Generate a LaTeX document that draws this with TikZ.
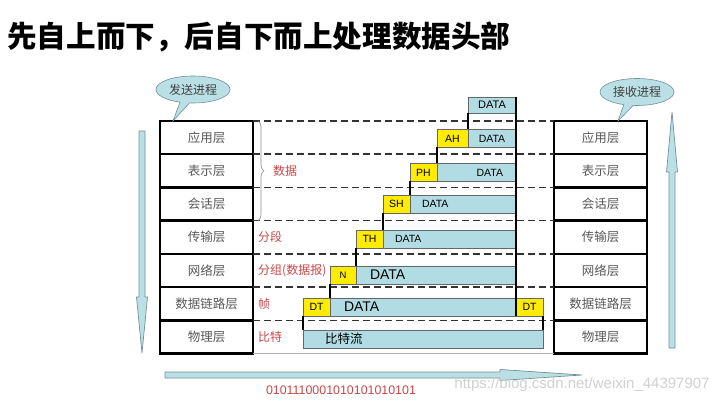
\documentclass[tikz,border=0pt]{standalone}
\usepackage{fontspec}
\setsansfont{Liberation Sans}
\newfontfamily\cjk{Noto Sans CJK SC}
\usetikzlibrary{shapes, positioning, decorations.pathreplacing}
\definecolor{cData}{RGB}{178,220,228}
\definecolor{cHdr}{RGB}{255,236,0}
\definecolor{cRed}{RGB}{200,72,72}
\definecolor{cBub}{RGB}{186,224,230}
\definecolor{cEdge}{RGB}{112,146,152}

\begin{document}
\begin{tikzpicture}[x=1pt, y=-1pt,
    lay/.style={draw=black, line width=2.6pt, fill=white, minimum width=93pt, minimum height=33.2pt,
        inner sep=0pt, outer sep=0pt, text=black!65, font=\cjk\fontsize{12.5}{13}\selectfont},
    pkt/.style={draw=black!60, line width=0.6pt, fill=cData, minimum height=18pt, inner sep=0pt,
        outer sep=0pt, font=\sffamily\fontsize{10.5}{11}\selectfont},
    hdr/.style={pkt, fill=cHdr},
    big/.style={font=\sffamily\fontsize{14}{15}\selectfont},
    stub/.style={draw=black, line width=2.5pt},
    dsh/.style={draw=black!80, line width=1.4pt, dash pattern=on 7pt off 4pt},
    tag/.style={text=cRed, font=\cjk\fontsize{12}{13}\selectfont, inner sep=0pt},
    bub/.style={ellipse callout, draw=cEdge, fill=cBub, line width=0.6pt, minimum width=74pt,
        minimum height=27pt, inner sep=0pt, font=\cjk\fontsize{12}{13}\selectfont, text=black!75},
    arr/.style={draw=cEdge, fill=cBub, line width=0.7pt, line join=round}]
\fill[white] (0,0) rectangle (727,403);
\useasboundingbox (0,0) rectangle (727,403);

\node[anchor=west, inner sep=0pt, font=\cjk\bfseries\fontsize{29.6}{30}\selectfont] (title) at (7,37) {先自上而下，后自下而上处理数据头部};

% sending stack
\node[lay] (L1) at (206.5,137.6) {应用层};
\node[lay, below=0pt of L1] (L2) {表示层};
\node[lay, below=0pt of L2] (L3) {会话层};
\node[lay, below=0pt of L3] (L4) {传输层};
\node[lay, below=0pt of L4] (L5) {网络层};
\node[lay, below=0pt of L5] (L6) {数据链路层};
\node[lay, below=0pt of L6] (L7) {物理层};

% receiving stack
\node[lay] (R1) at (600.5,137.6) {应用层};
\node[lay, below=0pt of R1] (R2) {表示层};
\node[lay, below=0pt of R2] (R3) {会话层};
\node[lay, below=0pt of R3] (R4) {传输层};
\node[lay, below=0pt of R4] (R5) {网络层};
\node[lay, below=0pt of R5] (R6) {数据链路层};
\node[lay, below=0pt of R6] (R7) {物理层};

\draw[dsh] (L1.north east) -- (R1.north west);
\draw[dsh] (L2.north east) -- (R2.north west);
\draw[dsh] (L3.north east) -- (R3.north west);
\draw[dsh] (L4.north east) -- (R4.north west);
\draw[dsh] (L5.north east) -- (R5.north west);
\draw[dsh] (L6.north east) -- (R6.north west);
\draw[dsh] (L7.north east) -- (R7.north west);
\draw[black!30, line width=0.8pt] (L7.south east) -- (R7.south west);

\node[bub, callout absolute pointer={([xshift=13pt]L1.north west)}] (send) at (193,89.5) {发送进程};
\node[bub, callout absolute pointer={([xshift=64pt]R1.north west)}] (recv) at (637,92) {接收进程};

% packets
\node[pkt, minimum width=48pt, minimum height=16pt, font=\sffamily\fontsize{11}{12}\selectfont] (d0) at (492,105) {DATA};
\node[hdr, minimum width=31pt] (hA) at (452.5,138.5) {AH};
\node[pkt, minimum width=48pt, right=0pt of hA] (dA) {DATA};
\node[hdr, minimum width=27pt] (hP) at (423.5,172.5) {PH};
\node[pkt, minimum width=79pt, inner xsep=13pt, text width=53pt, align=right, right=0pt of hP] (dP) {DATA};
\node[hdr, minimum width=27pt] (hS) at (396.5,204) {SH};
\node[pkt, minimum width=106pt, inner xsep=12pt, text width=82pt, align=left, right=0pt of hS] (dS) {DATA};
\node[hdr, minimum width=27pt] (hT) at (369.5,239) {TH};
\node[pkt, minimum width=133pt, inner xsep=12pt, text width=109pt, align=left, right=0pt of hT] (dT) {DATA};
\node[hdr, minimum width=26pt, font=\sffamily\fontsize{9.5}{10}\selectfont] (hN) at (343,275) {N};
\node[pkt, big, minimum width=160pt, inner xsep=14pt, text width=132pt, align=left, right=0pt of hN] (dN) {DATA};
\node[hdr, minimum width=27pt] (hD) at (316.5,307) {DT};
\node[pkt, big, minimum width=186pt, inner xsep=14pt, text width=158pt, align=left, right=0pt of hD] (dD) {DATA};
\node[hdr, minimum width=27pt, right=0pt of dD] (hD2) {DT};
\node[pkt, minimum width=240pt, inner xsep=22pt, text width=196pt, align=left, font=\cjk\fontsize{12.5}{13}\selectfont] (bits) at (423,339) {比特流};

\draw[stub] (d0.south west) -- (hA.north east);
\draw[stub] (hA.south west) -- (hP.north east);
\draw[stub] (hP.south west) -- (hS.north east);
\draw[stub] (hS.south west) -- (hT.north east);
\draw[stub] (hT.south west) -- (hN.north east);
\draw[stub] (hN.south west) -- (hD.north east);
\draw[stub] (hD.south west) -- (bits.north west);
\draw[stub] (hD2.south east) -- (bits.north east);
\draw[stub] (d0.north east) -- (hD2.south west);

% unit names
\draw[decorate, decoration={brace, amplitude=6pt}, draw=black!45, line width=0.6pt]
    ([xshift=5pt]L1.north east) -- ([xshift=5pt]L3.south east);
\node[tag, right=20pt of L2] (tData) {数据};
\node[tag, right=5pt of L4] (tSeg) {分段};
\node[tag, right=5pt of L5] (tPkt) {分组(数据报)};
\node[tag, right=5pt of L6] (tFrm) {帧};
\node[tag, right=5pt of L7] (tBit) {比特};

% direction arrows
\draw[arr] (139,131) -- (145,131) -- (145,297) -- (147.5,297) -- (142,353) -- (136.5,297) -- (139,297) -- cycle;
\draw[arr] (669,348) -- (675,348) -- (675,172) -- (677.5,172) -- (672,112) -- (666.5,172) -- (669,172) -- cycle;
\draw[arr] (165,372) -- (500,372) -- (500,369.5) -- (582,375) -- (500,380.5) -- (500,378) -- (165,378) -- cycle;

\node[text=cRed, font=\sffamily\fontsize{12.4}{13}\selectfont] (bin) at (341,390) {0101110001010101010101};
\node[text=black!18, font=\sffamily\fontsize{15}{16}\selectfont] (wm) at (582,385) {https://blog.csdn.net/weixin\_44397907};
\end{tikzpicture}
\end{document}
